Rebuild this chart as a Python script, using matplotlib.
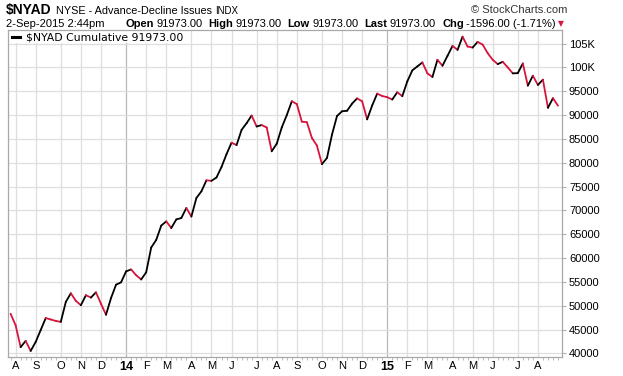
import numpy as np
import pandas as pd
import matplotlib
matplotlib.use('Agg')
import matplotlib.pyplot as plt
import matplotlib.dates as mdates
from matplotlib.collections import LineCollection
from matplotlib.lines import Line2D
from matplotlib.patches import Rectangle

W, H = 623, 376

# weekly points, Jul 2013 - Aug 2015
weeks = pd.date_range('2013-07-29', periods=110, freq='7D')
nyad = [48300, 45900, 41300, 42600, 40500, 42400, 44900, 47400, 47100, 46800,
        46600, 50800, 52600, 51000, 50100, 52200, 51700, 52800, 50400, 48100,
        51600, 54400, 54900, 57200, 57600, 56400, 55500, 57000, 62200, 63800,
        66800, 67700, 66300, 68100, 68400, 70500, 68700, 72600, 74000, 76300,
        76200, 76900, 79100, 81800, 84200, 83700, 86900, 88300, 89900, 87600,
        87900, 87400, 82400, 84000, 87400, 90000, 92900, 92300, 88600, 88500,
        85200, 83600, 79700, 81000, 85900, 89800, 90800, 90900, 92400, 93500,
        92900, 89100, 92000, 94500, 94000, 93750, 93260, 94790, 93960, 97080,
        99380, 100210, 101040, 98750, 97990, 101600, 100350, 102430, 104510, 103680,
        106460, 104380, 104170, 105350, 104790, 102990, 101600, 100690, 101180, 100000,
        98750, 98800, 100830, 96180, 98260, 96320, 97430, 91530, 93540, 91973]

y_ticks = list(range(40000, 105001, 5000))
y_labels = [f'{v // 1000}K' if v >= 100000 else str(v) for v in y_ticks]
month_letters = 'JFMAMJJASOND'

FONT = 'Liberation Sans'
RED = '#d8133c'

fig = plt.figure(figsize=(W / 100, H / 100), dpi=100)
ax = fig.add_axes([8 / W, 19 / H, 554 / W, 327 / H])
renderer = fig.canvas.get_renderer()

x = mdates.date2num(weeks)
y = np.array(nyad, dtype=float)
pts = np.column_stack([x, y]).reshape(-1, 1, 2)
segs = np.concatenate([pts[:-1], pts[1:]], axis=1)
cols = [RED if b < a else 'black' for a, b in zip(y[:-1], y[1:])]
lc = LineCollection(segs, colors=cols, linewidths=1.3, capstyle='round',
                    joinstyle='round', zorder=3)
ax.add_collection(lc)

ax.set_xlim(x[0] - 3.6, x[0] + 109.8 * 7)
ax.set_ylim(39230, 107850)

# month gridlines at first week of each month
tick_dates = [d for i, d in enumerate(weeks) if i > 0 and d.month != weeks[i - 1].month]
tick_x = mdates.date2num(tick_dates)
tick_lab = [str(d.year)[2:] if d.month == 1 else month_letters[d.month - 1] for d in tick_dates]
ax.set_xticks(tick_x)
ax.set_xticklabels(tick_lab, family=FONT, fontsize=8)
for t, d in zip(ax.get_xticklabels(), tick_dates):
    if d.month == 1:
        t.set_fontweight('bold')
        t.set_fontsize(9)
for tx, d in zip(tick_x, tick_dates):
    ax.axvline(tx, color='#b8b8b8' if d.month == 1 else '#dedede', lw=0.9, zorder=1)
ax.set_xticks(x, minor=True)
ax.tick_params(axis='x', which='major', length=0, pad=3)
ax.tick_params(axis='x', which='minor', length=2, color='#b0b0b0', width=0.6)

ax.yaxis.tick_right()
ax.set_yticks(y_ticks)
ax.set_yticklabels(y_labels, family=FONT, fontsize=8)
ax.tick_params(axis='y', length=3, color='#b0b0b0', pad=2)
for v in y_ticks:
    ax.axhline(v, color='#dedede', lw=0.9, zorder=1)

for s in ax.spines.values():
    s.set_color('#a8a8a8')
    s.set_linewidth(0.9)

# legend box
ax.add_patch(Rectangle((0, 1 - 13 / 327), 180 / 554, 13 / 327,
                       transform=ax.transAxes, facecolor='white', edgecolor='none', zorder=2))
fig.add_artist(Line2D([12 / W, 20 / W], [1 - 37 / H, 1 - 37 / H], color='black', lw=2.2))
fig.text(26 / W, 1 - 37 / H, r'\$NYAD Cumulative 91973.00', family='DejaVu Sans',
         fontsize=7.8, va='center', ha='left')


def put(px, py, s, gap=0, **kw):
    # place a text at pixel x and return the pixel x where the next one may start
    t = fig.text(px / W, 1 - py / H, s, family=kw.pop('family', FONT), va='center', **kw)
    return t.get_window_extent(renderer).x1 + gap


# header, line 1
nx = put(6, 10, r'\$NYAD', 4, fontsize=10, fontweight='bold')
nx = put(nx, 10.5, 'NYSE - Advance-Decline Issues', 4, fontsize=7.8)
put(nx, 11, 'INDX', fontsize=7)
fig.text(567 / W, 1 - 10 / H, '© StockCharts.com', family=FONT, fontsize=8, va='center',
         ha='right', color='#333333')

# header, line 2
put(6, 24, '2-Sep-2015 2:44pm', fontsize=8)
nx = 125
for lab, val in [('Open', '91973.00'), ('High', '91973.00'), ('Low', '91973.00'),
                 ('Last', '91973.00'), ('Chg', '-1596.00 (-1.71%)')]:
    nx = put(nx, 24, lab, 2.5, fontsize=8, fontweight='bold')
    nx = put(nx, 24, val, 6, fontsize=8)
put(nx - 4, 24, '▼', family='DejaVu Sans', fontsize=5.5, color=RED)

fig.savefig('out.png', dpi=100)
